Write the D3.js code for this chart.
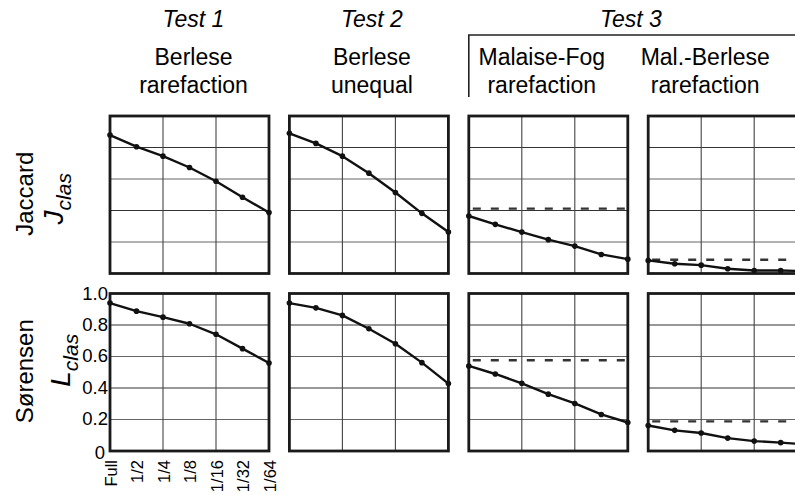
<!DOCTYPE html>
<html>
<head>
<meta charset="utf-8">
<script src="https://cdn.jsdelivr.net/npm/d3@7"></script>
<style>
  html, body { margin: 0; padding: 0; background: #fff; overflow: hidden; }
  svg { display: block; font-family: "Liberation Sans", Arial, Helvetica, sans-serif; }
</style>
</head>
<body>
<svg id="chart" width="795" height="495"></svg>
<script>
// ---------- data ----------
const categories = ["Full", "1/2", "1/4", "1/8", "1/16", "1/32", "1/64"];
const testLabels = ["Test 1", "Test 2", "Test 3"];
const methodLine1 = ["Berlese", "Berlese", "Malaise-Fog", "Mal.-Berlese"];
const methodLine2 = ["rarefaction", "unequal", "rarefaction", "rarefaction"];
const rowLabels = ["Jaccard", "Sørensen"];
const rowSymbols = ["J", "L"];
const rowSubscript = "clas";

// Jaccard J_clas values per panel
const jaccardBerleseRare   = [0.879, 0.805, 0.745, 0.673, 0.586, 0.484, 0.387];
const jaccardBerleseUneq   = [0.890, 0.826, 0.745, 0.637, 0.514, 0.382, 0.263];
const jaccardMalaiseFog    = [0.365, 0.312, 0.263, 0.215, 0.174, 0.121, 0.091];
const jaccardMalBerlese    = [0.083, 0.062, 0.053, 0.030, 0.019, 0.019, 0.015];
// Sørensen L_clas values per panel
const sorensenBerleseRare  = [0.939, 0.888, 0.850, 0.808, 0.741, 0.650, 0.559];
const sorensenBerleseUneq  = [0.939, 0.909, 0.861, 0.776, 0.681, 0.561, 0.428];
const sorensenMalaiseFog   = [0.540, 0.489, 0.430, 0.361, 0.302, 0.232, 0.181];
const sorensenMalBerlese   = [0.162, 0.131, 0.114, 0.082, 0.063, 0.053, 0.042];
// dashed reference levels (Test 3 only)
const jaccardRefs  = [null, null, 0.412, 0.087];
const sorensenRefs = [null, null, 0.576, 0.188];

const yTicks = [0, 0.2, 0.4, 0.6, 0.8, 1.0];
const yTickLabels = ["0", "0.2", "0.4", "0.6", "0.8", "1.0"];
const xGridCats = ["1/4", "1/16"];

const rows = [
  { series: [jaccardBerleseRare, jaccardBerleseUneq, jaccardMalaiseFog, jaccardMalBerlese], refs: jaccardRefs },
  { series: [sorensenBerleseRare, sorensenBerleseUneq, sorensenMalaiseFog, sorensenMalBerlese], refs: sorensenRefs }
];

// ---------- layout ----------
const svg = d3.select("#chart");
const colBand = d3.scaleBand().domain([0, 1, 2, 3]).range([110, 807.2]).paddingInner(0.1137).paddingOuter(0);
const rowBand = d3.scaleBand().domain([0, 1]).range([116, 451]).paddingInner(0.1127).paddingOuter(0);
const bw = colBand.bandwidth();
const bh = rowBand.bandwidth();

const x = d3.scalePoint().domain(categories).range([0, bw]);
const y = d3.scaleLinear().domain([0, 1]).range([bh, 0]);

const FONT_BIG = 23;

// ---------- headers ----------
const headerX = [colBand(0) + bw / 2 + 4, colBand(1) + bw / 2 + 3, colBand(2) + 73, colBand(3) + 57];
svg.append("text").attr("x", headerX[0]).attr("y", 27).attr("text-anchor", "middle")
  .attr("font-size", FONT_BIG).attr("font-style", "italic").text(testLabels[0]);
svg.append("text").attr("x", headerX[1]).attr("y", 27).attr("text-anchor", "middle")
  .attr("font-size", FONT_BIG).attr("font-style", "italic").text(testLabels[1]);
svg.append("text").attr("x", 631).attr("y", 27).attr("text-anchor", "middle")
  .attr("font-size", FONT_BIG).attr("font-style", "italic").text(testLabels[2]);

methodLine1.forEach((t, i) => {
  svg.append("text").attr("x", headerX[i]).attr("y", 65).attr("text-anchor", "middle")
    .attr("font-size", FONT_BIG).text(t);
  svg.append("text").attr("x", headerX[i]).attr("y", 93).attr("text-anchor", "middle")
    .attr("font-size", FONT_BIG).text(methodLine2[i]);
});

// Test 3 bracket
const bx = colBand(2);
svg.append("path")
  .attr("d", `M${bx},97 L${bx},35 L800,35`)
  .attr("fill", "none").attr("stroke", "#222").attr("stroke-width", 1.6);

// ---------- row labels ----------
const rowLabelBase = [33, 33];
const symBase = [63, 70];
rows.forEach((r, ri) => {
  const cy = rowBand(ri) + bh / 2;
  svg.append("text")
    .attr("transform", `translate(${rowLabelBase[ri]},${cy - 1}) rotate(-90)`)
    .attr("text-anchor", "middle").attr("font-size", FONT_BIG + 1).text(rowLabels[ri]);
  const t = svg.append("text")
    .attr("transform", `translate(${symBase[ri]},${cy + (ri === 0 ? 4 : -12)}) rotate(-90)`)
    .attr("text-anchor", "middle").attr("font-style", "italic");
  t.append("tspan").attr("font-size", 28).text(rowSymbols[ri]);
  t.append("tspan").attr("font-size", 21).attr("dy", 8).text(rowSubscript);
});

// ---------- panels ----------
const line = d3.line().x((d, i) => x(categories[i])).y(d => y(d));

rows.forEach((r, ri) => {
  r.series.forEach((vals, ci) => {
    const g = svg.append("g").attr("transform", `translate(${colBand(ci)},${rowBand(ri)})`);

    // horizontal grid
    g.selectAll(".hg").data(yTicks.slice(1, -1)).enter().append("line")
      .attr("x1", 0).attr("x2", bw)
      .attr("y1", d => y(d)).attr("y2", d => y(d))
      .attr("stroke", (d, i) => i % 2 === 0 ? "#666" : "#333").attr("stroke-width", 1.1);
    // vertical grid
    g.selectAll(".vg").data(xGridCats).enter().append("line")
      .attr("x1", d => x(d)).attr("x2", d => x(d))
      .attr("y1", 0).attr("y2", bh)
      .attr("stroke", "#444").attr("stroke-width", 1.1);

    // dashed reference
    if (r.refs[ci] != null) {
      g.append("line")
        .attr("x1", 0).attr("x2", bw)
        .attr("y1", y(r.refs[ci])).attr("y2", y(r.refs[ci]))
        .attr("stroke", "#333").attr("stroke-width", 2.4)
        .attr("stroke-dasharray", "8,10").attr("stroke-dashoffset", -4);
    }

    // frame
    g.append("rect").attr("x", 0).attr("y", 0).attr("width", bw).attr("height", bh)
      .attr("fill", "none").attr("stroke", "#1a1a1a").attr("stroke-width", 2.8);

    // series line
    g.append("path").datum(vals).attr("d", line)
      .attr("fill", "none").attr("stroke", "#111").attr("stroke-width", 2.4)
      .attr("stroke-linejoin", "round");
    g.selectAll(".pt").data(vals).enter().append("circle")
      .attr("cx", (d, i) => x(categories[i])).attr("cy", d => y(d)).attr("r", 2.8)
      .attr("fill", "#111");

    // axes on bottom-left panel
    if (ri === 1 && ci === 0) {
      g.selectAll(".yl").data(yTicks).enter().append("text")
        .attr("x", d => d === 0 ? -5 : -2)
        .attr("y", d => y(d) + (d === 0 ? 8 : 6))
        .attr("text-anchor", "end").attr("font-size", 18.5)
        .text((d, i) => yTickLabels[i]);
      g.selectAll(".xl").data(categories).enter().append("text")
        .attr("transform", d => `translate(${x(d) + 6.5},${bh + 9}) rotate(-90)`)
        .attr("text-anchor", "end").attr("font-size", 16.5)
        .text(d => d);
    }
  });
});
</script>
</body>
</html>
